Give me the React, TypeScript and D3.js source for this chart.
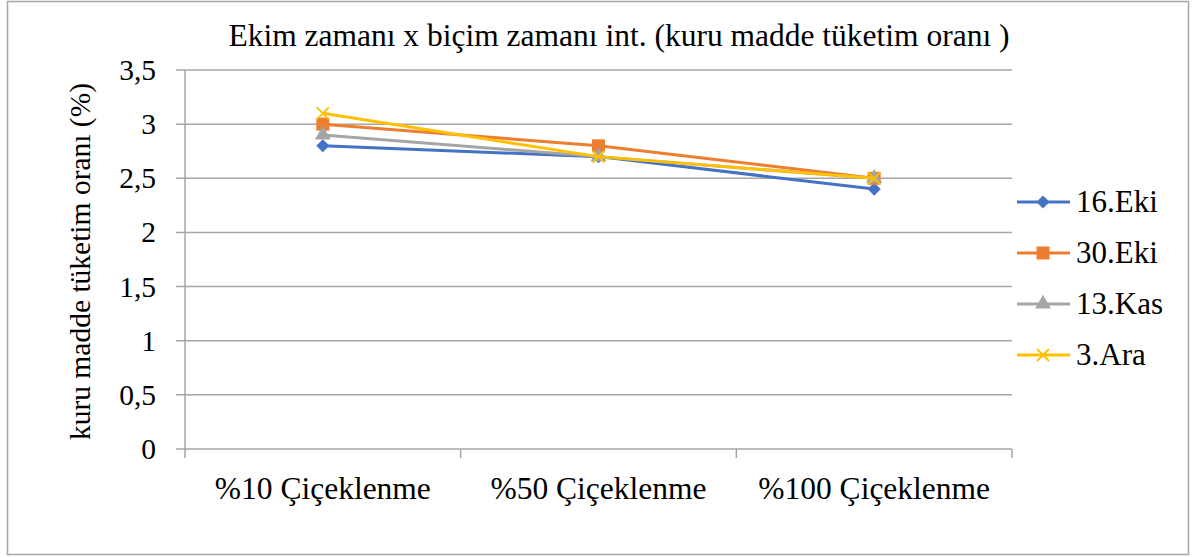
import React from "react";
import * as d3 from "d3";

const categories = ["%10 Çiçeklenme", "%50 Çiçeklenme", "%100 Çiçeklenme"];
const seriesNames = ["16.Eki", "30.Eki", "13.Kas", "3.Ara"];
const s16Eki = [2.8, 2.7, 2.4];
const s30Eki = [3.0, 2.8, 2.5];
const s13Kas = [2.9, 2.7, 2.5];
const s3Ara = [3.1, 2.7, 2.5];
const yTicks = [0, 0.5, 1, 1.5, 2, 2.5, 3, 3.5];
const colors = ["#4472C4", "#ED7D31", "#A5A5A5", "#FFC000"];
const markers = ["diamond", "square", "triangle", "x"];

const W = 1195, H = 557;
const left = 185, right = 1012, top = 70, bottom = 449;
const font = "Liberation Serif, DejaVu Serif, serif";

function Marker({ type, x, y, color }: { type: string; x: number; y: number; color: string }) {
  if (type === "diamond") {
    const s = d3.symbol().type(d3.symbolDiamond2).size(110)();
    return <path d={s || ""} transform={`translate(${x},${y})`} fill={color} />;
  }
  if (type === "square") {
    return <rect x={x - 6.5} y={y - 6.5} width={13} height={13} fill={color} />;
  }
  if (type === "triangle") {
    const s = d3.symbol().type(d3.symbolTriangle).size(110)();
    return <path d={s || ""} transform={`translate(${x},${y})`} fill={color} />;
  }
  return (
    <g stroke={color} strokeWidth={1.8}>
      <line x1={x - 6} y1={y - 6} x2={x + 6} y2={y + 6} />
      <line x1={x - 6} y1={y + 6} x2={x + 6} y2={y - 6} />
    </g>
  );
}

export default function App() {
  const data = [s16Eki, s30Eki, s13Kas, s3Ara];
  const x = d3.scaleBand().domain(categories).range([left, right]);
  const y = d3.scaleLinear().domain([0, 3.5]).range([bottom, top]);
  const cx = (c: string) => (x(c) ?? 0) + x.bandwidth() / 2;
  const line = d3
    .line<number>()
    .x((_, i) => cx(categories[i]))
    .y((d) => y(d));
  const xTickPos = [...categories.map((c) => x(c) ?? 0), right];
  const ts = { fontFamily: font };

  return (
    <svg width={W} height={H} style={{ position: "absolute", left: 0, top: 0, fontFamily: font }}>
      <rect x={0} y={0} width={W} height={H} fill="#fff" />
      <rect x={7.5} y={1.5} width={1181} height={553} fill="#fff" stroke="#a6a6a6" strokeWidth={1.5} />
      <text x={619} y={46} fontSize={31.5} textAnchor="middle" fill="#000" style={ts}>
        Ekim zamanı x biçim zamanı int. (kuru madde tüketim oranı )
      </text>
      {yTicks.map((t) => (
        <g key={t}>
          <line x1={176} x2={right} y1={y(t)} y2={y(t)} stroke="#a6a6a6" strokeWidth={1.5} />
          <text x={156} y={y(t) + 10} fontSize={29.5} textAnchor="end" fill="#000" style={ts}>
            {String(t).replace(".", ",")}
          </text>
        </g>
      ))}
      <line x1={left} x2={left} y1={top} y2={bottom} stroke="#a6a6a6" strokeWidth={1.5} />
      {xTickPos.map((p, i) => (
        <line key={i} x1={p} x2={p} y1={bottom} y2={bottom + 9} stroke="#a6a6a6" strokeWidth={1.5} />
      ))}
      {categories.map((c) => (
        <text key={c} x={cx(c)} y={499} fontSize={31.5} textAnchor="middle" fill="#000" style={ts}>
          {c}
        </text>
      ))}
      <text
        transform={`translate(90, ${(top + bottom) / 2 + 2}) rotate(-90)`}
        fontSize={29.5}
        textAnchor="middle"
        fill="#000"
        style={ts}
      >
        kuru madde tüketim oranı (%)
      </text>
      {data.map((vals, si) => (
        <g key={si}>
          <path d={line(vals) || ""} fill="none" stroke={colors[si]} strokeWidth={3} strokeLinejoin="round" />
          {vals.map((v, i) => (
            <Marker key={i} type={markers[si]} x={cx(categories[i])} y={y(v)} color={colors[si]} />
          ))}
        </g>
      ))}
      {seriesNames.map((n, i) => {
        const ly = 202 + i * 51;
        return (
          <g key={n}>
            <line x1={1017} x2={1070} y1={ly} y2={ly} stroke={colors[i]} strokeWidth={3} />
            <Marker type={markers[i]} x={1043} y={ly} color={colors[i]} />
            <text x={1076} y={ly + 10} fontSize={31} fill="#000" style={ts}>
              {n}
            </text>
          </g>
        );
      })}
    </svg>
  );
}
